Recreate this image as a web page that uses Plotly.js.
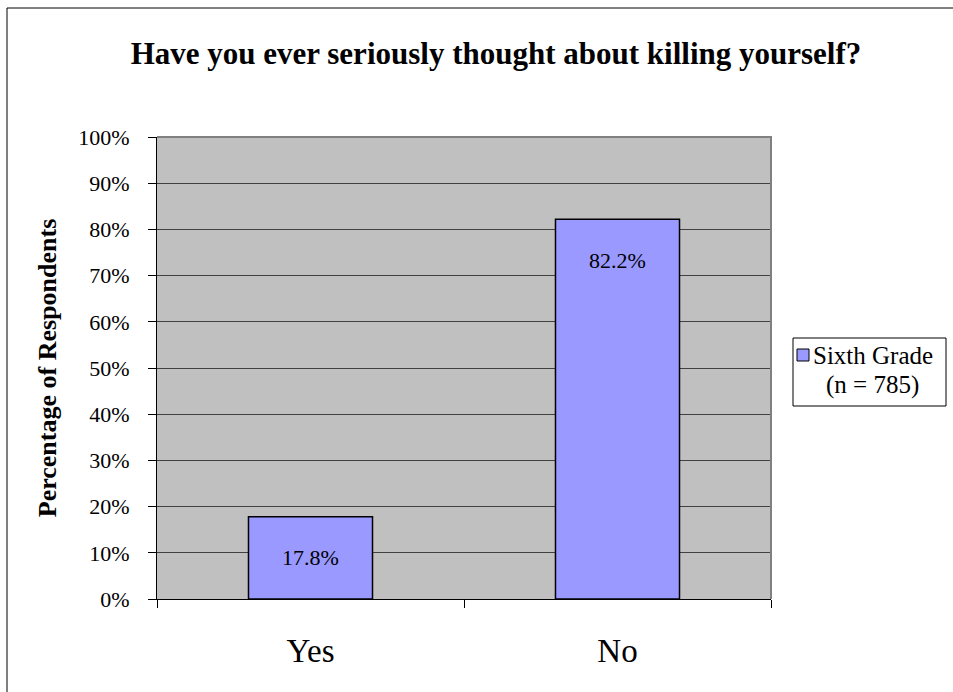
<!DOCTYPE html>
<html>
<head>
<meta charset="utf-8">
<script src="https://cdn.plot.ly/plotly-3.0.1.min.js"></script>
<style>
  html, body { margin: 0; padding: 0; background: #fff; }
  #chart { width: 953px; height: 692px; }
</style>
</head>
<body>
<div id="chart"></div>
<script>
const categories = ["Yes", "No"];
const values = [17.8, 82.2];
const valueLabels = ["17.8%", "82.2%"];
const seriesName = "Sixth Grade";
const seriesNote = "(n = 785)";
const yTicks = [0, 10, 20, 30, 40, 50, 60, 70, 80, 90, 100];
const yTickText = yTicks.map(v => v + "%");

const FONT = "Liberation Serif, Times New Roman, serif";
const BAR_COLOR = "#9999FF";

// plot area in pixels (for converting layout positions to paper units)
const PL = 157, PR = 771, PT = 137, PB = 599;
const px = v => (v - PL) / (PR - PL);
const py = v => (PB - v) / (PB - PT);

const trace = {
  type: "bar",
  x: categories,
  y: values,
  name: seriesName,
  width: 0.404,
  marker: { color: BAR_COLOR, line: { color: "#000000", width: 1.5 } },
  showlegend: false,
  hoverinfo: "none"
};

const annotations = categories.map((c, i) => ({
  x: c, y: values[i], xref: "x", yref: "y",
  text: valueLabels[i], showarrow: false,
  yanchor: "middle", yshift: -41,
  font: { family: FONT, size: 22, color: "#000" }
}));

// legend (drawn as annotations + shapes)
annotations.push({
  xref: "paper", yref: "paper", x: px(811), y: py(355),
  xanchor: "left", yanchor: "middle", showarrow: false,
  text: seriesName, font: { family: FONT, size: 25, color: "#000" }
});
annotations.push({
  xref: "paper", yref: "paper", x: px(824), y: py(385),
  xanchor: "left", yanchor: "middle", showarrow: false,
  text: seriesNote, font: { family: FONT, size: 25, color: "#000" }
});

const layout = {
  width: 953, height: 692,
  margin: { l: PL, r: 953 - PR, t: PT, b: 692 - PB, pad: 0 },
  paper_bgcolor: "#ffffff",
  plot_bgcolor: "#C0C0C0",
  font: { family: FONT, color: "#000" },
  showlegend: false,
  title: {
    text: "<b>Have you ever seriously thought about killing yourself?</b>",
    font: { family: FONT, size: 31, color: "#000" },
    x: 496 / 953, xanchor: "center", xref: "container",
    y: 1 - 53 / 692, yanchor: "middle", yref: "container"
  },
  xaxis: {
    type: "category",
    showgrid: false,
    showline: true, linecolor: "#000", linewidth: 1,
    ticks: "outside", ticklen: 8, tickcolor: "#000", tickwidth: 1,
    tickson: "boundaries",
    ticklabelstandoff: 22,
    tickfont: { family: FONT, size: 33, color: "#000" },
    fixedrange: true
  },
  yaxis: {
    range: [0, 100],
    tickvals: yTicks, ticktext: yTickText,
    showgrid: true, gridcolor: "#404040", gridwidth: 1,
    showline: true, linecolor: "#000", linewidth: 1,
    ticks: "outside", ticklen: 8, tickcolor: "#000",
    ticklabelstandoff: 14,
    tickfont: { family: FONT, size: 22, color: "#000" },
    zeroline: false,
    title: { text: "<b>Percentage of Respondents</b>", font: { family: FONT, size: 26, color: "#000" }, standoff: 14 },
    fixedrange: true
  },
  annotations: annotations,
  shapes: [
    { type: "path", xref: "paper", yref: "paper", path: "M 0 1 L 1 1 L 1 0", line: { color: "#808080", width: 2 }, layer: "above" },
    { type: "rect", xref: "paper", yref: "paper", x0: px(7), x1: 3, y0: -3, y1: py(8), line: { color: "#000", width: 1 }, layer: "below" },
    // legend box
    { type: "rect", xref: "paper", yref: "paper", x0: px(793), x1: px(946), y0: py(406), y1: py(338), line: { color: "#000", width: 1 }, fillcolor: "#ffffff", layer: "above" },
    // legend marker
    { type: "rect", xref: "paper", yref: "paper", x0: px(797), x1: px(809), y0: py(361), y1: py(349), line: { color: "#000", width: 1 }, fillcolor: BAR_COLOR, layer: "above" }
  ]
};

Plotly.newPlot("chart", [trace], layout, { displayModeBar: false, staticPlot: true });
</script>
</body>
</html>
